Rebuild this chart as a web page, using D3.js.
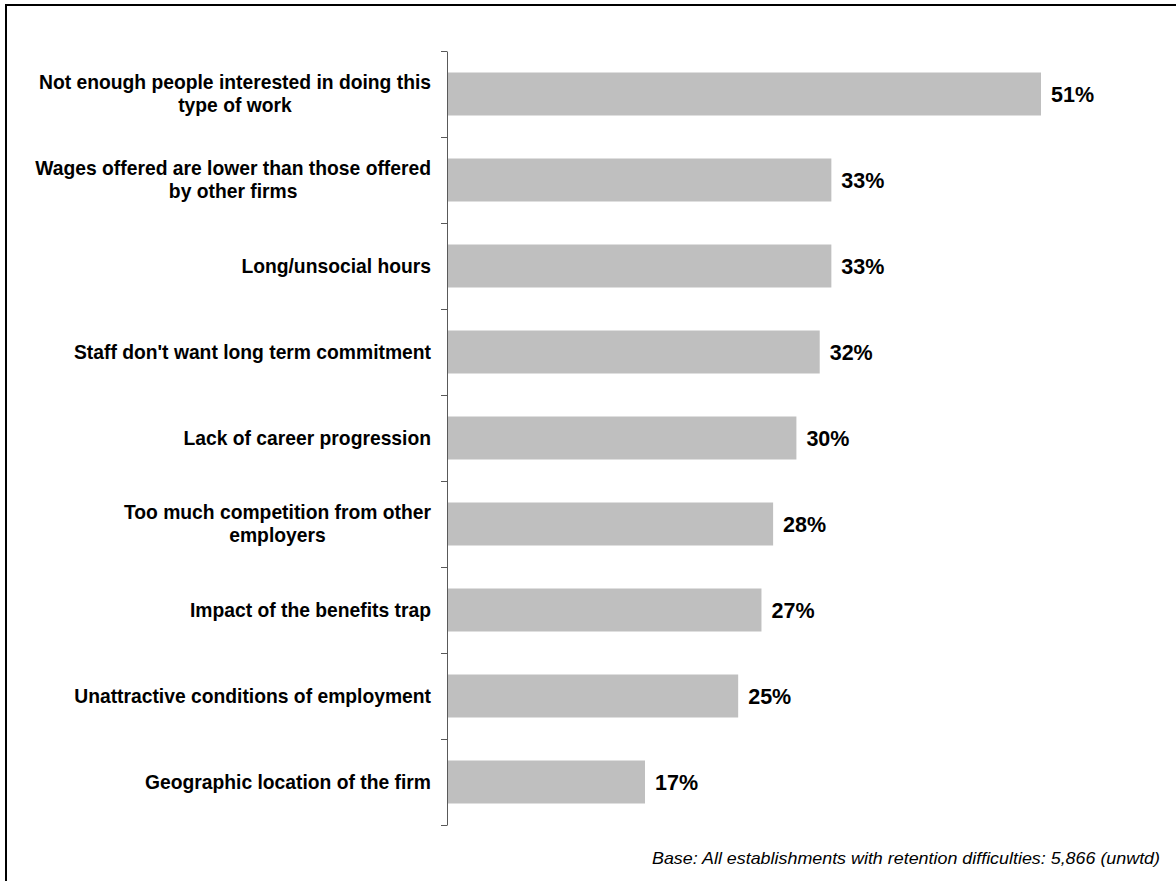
<!DOCTYPE html>
<html>
<head>
<meta charset="utf-8">
<script src="https://cdn.jsdelivr.net/npm/d3@7"></script>
<style>
  html, body { margin: 0; padding: 0; background: #fff; }
  svg { display: block; }
</style>
</head>
<body>
<svg id="chart" width="1176" height="881"></svg>
<script>
const categories = [
  "Not enough people interested in doing this type of work",
  "Wages offered are lower than those offered by other firms",
  "Long/unsocial hours",
  "Staff don't want long term commitment",
  "Lack of career progression",
  "Too much competition from other employers",
  "Impact of the benefits trap",
  "Unattractive conditions of employment",
  "Geographic location of the firm"
];
const values = [51, 33, 33, 32, 30, 28, 27, 25, 17];
const footnote = "Base: All establishments with retention difficulties: 5,866 (unwtd)";

(function () {
const svg = d3.select("#chart");
svg.append("rect").attr("x", 0).attr("y", 0).attr("width", 1176).attr("height", 881).attr("fill", "#fff");
// frame (left and top edges visible)
svg.append("path").attr("d", "M6,900 L6,5 L1200,5").attr("fill", "none").attr("stroke", "#000").attr("stroke-width", 2);

const yTop = 51, yBottom = 825, x0 = 447;
const y = d3.scaleBand().domain(categories).range([yTop, yBottom]).paddingInner(0.5).paddingOuter(0.25);
const x = d3.scaleLinear().domain([0, 51]).range([x0, 1041]);

// axis with ticks at category boundaries
const yb = d3.scaleLinear().domain([0, categories.length]).range([yTop, yBottom]);
const axis = d3.axisLeft(yb).tickValues(d3.range(0, categories.length + 1)).tickSize(6).tickSizeOuter(0).tickFormat("");
const ag = svg.append("g").attr("transform", `translate(${x0},0)`).call(axis);
ag.selectAll("path, line").attr("stroke", "#595959").attr("stroke-width", 1);

// bars
svg.selectAll("rect.bar").data(categories).enter().append("rect")
  .attr("class", "bar")
  .attr("x", x(0) + 1)
  .attr("y", d => y(d))
  .attr("width", (d, i) => x(values[i]) - x(0) - 1)
  .attr("height", y.bandwidth())
  .attr("fill", "#bfbfbf");

// value labels
svg.selectAll("text.val").data(categories).enter().append("text")
  .attr("class", "val")
  .attr("x", (d, i) => x(values[i]) + 10)
  .attr("y", d => y(d) + y.bandwidth() / 2)
  .attr("dy", "0.36em")
  .attr("font-family", "Liberation Sans, Arial, sans-serif")
  .attr("font-weight", "bold")
  .attr("font-size", 21.5)
  .attr("fill", "#000")
  .text((d, i) => values[i] + "%");

// category labels, wrapped & centered, block right-aligned
const labelRight = 431, maxW = 402, lineH = 23, fs = 19.3;
categories.forEach(cat => {
  const g = svg.append("g");
  const t = g.append("text")
    .attr("font-family", "Liberation Sans, Arial, sans-serif")
    .attr("font-weight", "bold")
    .attr("font-size", fs)
    .attr("fill", "#000");
  const words = cat.split(" ");
  const lines = [];
  let cur = [];
  const probe = t.append("tspan");
  words.forEach(w => {
    const test = cur.concat([w]).join(" ");
    probe.text(test);
    if (probe.node().getComputedTextLength() > maxW && cur.length) {
      lines.push(cur.join(" "));
      cur = [w];
    } else cur.push(w);
  });
  lines.push(cur.join(" "));
  probe.remove();
  const widths = lines.map(l => { const p = t.append("tspan").text(l); const w = p.node().getComputedTextLength(); p.remove(); return w; });
  const bw = d3.max(widths);
  const cx = labelRight - bw / 2;
  const cy = y(cat) + y.bandwidth() / 2;
  const startY = cy - (lines.length - 1) * lineH / 2;
  lines.forEach((l, i) => {
    t.append("tspan").attr("x", cx).attr("y", startY + i * lineH).attr("dy", "0.35em").attr("text-anchor", "middle").text(l);
  });
});

// footnote
svg.append("text")
  .attr("x", 1160).attr("y", 864)
  .attr("text-anchor", "end")
  .attr("font-family", "Liberation Sans, Arial, sans-serif")
  .attr("font-style", "italic")
  .attr("font-size", 17)
  .attr("textLength", 508)
  .attr("lengthAdjust", "spacingAndGlyphs")
  .attr("fill", "#000")
  .text(footnote);
})();
</script>
</body>
</html>
